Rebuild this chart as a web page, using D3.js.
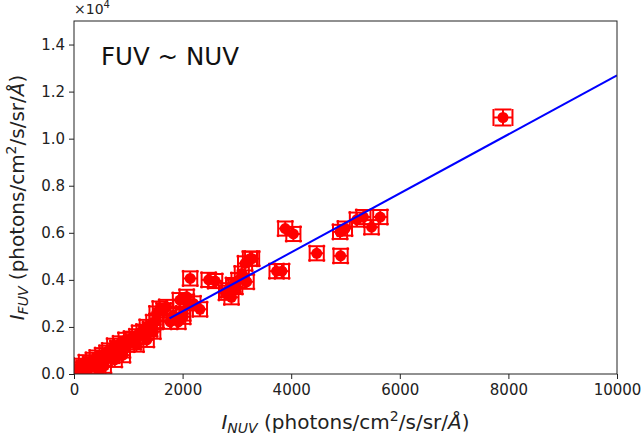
<!DOCTYPE html>
<html><head><meta charset="utf-8">
<script src="https://cdn.jsdelivr.net/npm/d3@7"></script>
<style>body{margin:0;background:#fff;} svg{display:block;font-family:"DejaVu Sans",sans-serif;}</style>
</head><body>
<script>
const nuv = [20,60,100,130,180,220,250,300,350,400,420,450,480,520,550,560,600,650,700,740,750,800,850,900,900,950,980,1050,1100,1150,1150,1200,1280,1340,1340,1400,1460,1460,1520,1520,1580,1650,1700,1770,1830,1920,1950,2010,2010,2075,2075,2140,2200,2320,2480,2600,2800,2840,2900,2930,2970,3030,3090,3150,3240,3280,3180,3730,3830,3890,4040,4470,4910,4900,4990,5210,5330,5480,5640,7900];
const fuv = [80,200,120,350,260,500,150,420,600,300,700,150,520,800,350,650,900,1000,780,1200,600,1100,1300,1000,800,1450,1250,1500,1350,1600,1250,1750,1800,1450,2000,1900,1800,2200,2250,2570,2780,2700,2850,2220,2500,2220,3140,2430,2570,3070,3280,4060,3000,2750,4000,3950,3450,3560,3260,3780,3700,3990,4270,4700,4900,4900,3920,4370,4370,6180,5950,5130,5020,6040,6180,6560,6670,6240,6670,10900];
const nuvErr = [130,130,130,130,130,130,130,130,130,130,130,130,130,130,130,130,130,130,130,130,130,130,130,130,130,130,130,130,130,130,130,130,130,130,130,130,130,130,130,130,130,130,130,130,130,130,130,130,130,130,130,130,130,130,130,130,130,130,130,130,130,130,130,130,130,130,130,130,130,130,130,130,130,130,130,130,130,130,130,175];
const fuvErr = [300,300,300,300,300,300,300,300,300,300,300,300,300,300,300,300,300,300,300,300,300,300,300,300,300,300,300,300,300,300,300,300,300,300,300,300,300,300,300,300,300,300,300,300,300,300,300,300,300,300,300,300,300,300,300,300,300,300,300,300,300,300,300,300,300,300,300,300,300,300,300,300,300,300,300,300,300,300,300,340];
const fitNUV = [1760, 10000];
const fitFUV = [2360, 12690];
const xTicks = [0,2000,4000,6000,8000,10000];
const yTicks = [0,2000,4000,6000,8000,10000,12000,14000];

const W=643,H=438;
const m={l:74,r:617,t:21,b:374};
const svg=d3.select("body").append("svg").attr("width",W).attr("height",H);
const x=d3.scaleLinear().domain([0,10000]).range([m.l,m.r]);
const y=d3.scaleLinear().domain([0,15000]).range([m.b,m.t]);

svg.append("clipPath").attr("id","clip").append("rect")
  .attr("x",m.l).attr("y",m.t).attr("width",m.r-m.l).attr("height",m.b-m.t);
const g=svg.append("g").attr("clip-path","url(#clip)");
const cap=8.5;
const red="#ff0000";
nuv.forEach((v,i)=>{
  const cx=x(v), cy=y(fuv[i]);
  const x0=x(v-nuvErr[i]), x1=x(v+nuvErr[i]);
  const y0=y(fuv[i]-fuvErr[i]), y1=y(fuv[i]+fuvErr[i]);
  const e=g.append("g").attr("stroke",red).attr("stroke-width",2).attr("fill","none");
  e.append("line").attr("x1",x0).attr("x2",x1).attr("y1",cy).attr("y2",cy);
  e.append("line").attr("x1",cx).attr("x2",cx).attr("y1",y0).attr("y2",y1);
  e.append("line").attr("x1",x0).attr("x2",x0).attr("y1",cy-cap).attr("y2",cy+cap);
  e.append("line").attr("x1",x1).attr("x2",x1).attr("y1",cy-cap).attr("y2",cy+cap);
  e.append("line").attr("x1",cx-cap).attr("x2",cx+cap).attr("y1",y0).attr("y2",y0);
  e.append("line").attr("x1",cx-cap).attr("x2",cx+cap).attr("y1",y1).attr("y2",y1);
});
g.selectAll("circle.pt").data(nuv).enter().append("circle")
  .attr("cx",d=>x(d)).attr("cy",(d,i)=>y(fuv[i])).attr("r",5.5).attr("fill",red);

g.append("path").datum(fitNUV.map((d,i)=>[d,fitFUV[i]]))
  .attr("d",d3.line().x(d=>x(d[0])).y(d=>y(d[1])))
  .attr("stroke","#0000ff").attr("stroke-width",2).attr("fill","none");

// axes
const xa=svg.append("g").attr("transform",`translate(0,${m.b})`)
  .call(d3.axisBottom(x).tickValues(xTicks).tickFormat(d3.format("d")).tickSizeOuter(0).tickSize(5).tickPadding(5));
const ya=svg.append("g").attr("transform",`translate(${m.l},0)`)
  .call(d3.axisLeft(y).tickValues(yTicks).tickFormat(d=>(d/10000).toFixed(1)).tickSizeOuter(0).tickSize(5).tickPadding(4));
[xa,ya].forEach(a=>{a.selectAll("text").attr("font-size",15).attr("fill","#222").attr("font-family","DejaVu Sans");
  a.select(".domain").remove(); a.selectAll("line").attr("stroke","#222");});
svg.append("rect").attr("x",m.l).attr("y",m.t).attr("width",m.r-m.l).attr("height",m.b-m.t)
  .attr("fill","none").attr("stroke","#222").attr("stroke-width",1);

svg.append("text").attr("x",m.l).attr("y",14).attr("font-size",14).attr("fill","#222")
  .html('×10<tspan dy="-6" font-size="10">4</tspan>');

svg.append("text").attr("x",101).attr("y",65).attr("font-size",24.5).attr("fill","#111").text("FUV ~ NUV");

const xl=svg.append("text").attr("x",(m.l+m.r)/2).attr("y",429).attr("text-anchor","middle")
  .attr("font-size",20).attr("fill","#222");
xl.html('<tspan font-style="italic">I</tspan><tspan font-size="14" dy="4" font-style="italic">NUV</tspan><tspan dy="-4"> (photons/cm</tspan><tspan font-size="14" dy="-8">2</tspan><tspan dy="8">/s/sr/</tspan><tspan font-style="italic">Å</tspan>)');
const yl=svg.append("text").attr("transform",`translate(24,${(m.t+m.b)/2}) rotate(-90)`).attr("text-anchor","middle")
  .attr("font-size",20).attr("fill","#222");
yl.html('<tspan font-style="italic">I</tspan><tspan font-size="14" dy="4" font-style="italic">FUV</tspan><tspan dy="-4"> (photons/cm</tspan><tspan font-size="14" dy="-8">2</tspan><tspan dy="8">/s/sr/</tspan><tspan font-style="italic">Å</tspan>)');
</script>
</body></html>
